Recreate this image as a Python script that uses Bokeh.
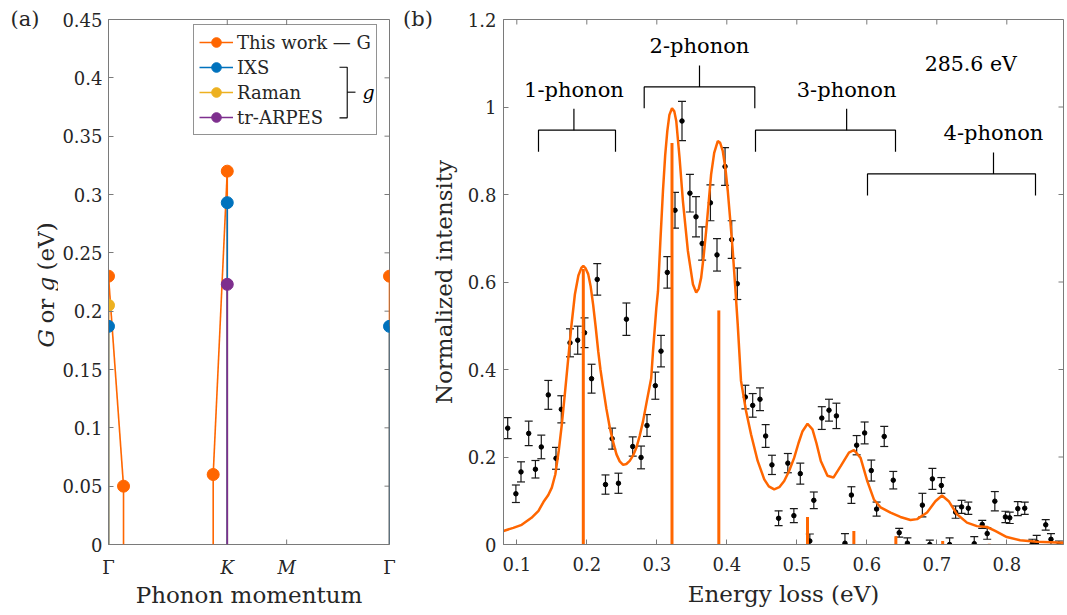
import numpy as np
from bokeh.plotting import figure
from bokeh.layouts import row, column
from bokeh.models import (Range1d, FixedTicker, CustomJSTickFormatter, Legend, LegendItem)
from bokeh.embed import file_html
from bokeh.resources import INLINE
from bokeh.core.properties import value

SERIF = "DejaVu Serif"
ORANGE = "#FF6600"
BLUE = "#0072BD"
YELLOW = "#EDB120"
PURPLE = "#7E2F8E"
AXIS = "#7a7a7a"
INK = "#262626"
TICK_LEN = 5  # inward tick length, px

# ---------------- (a) coupling strength along the high-symmetry path ----------------
# path lengths Gamma-K : K-M : M-Gamma = 2 : 1 : sqrt(3)
path_positions = [0.0, 2.0, 3.0, 4.732]
path_labels = ["Γ", "K", "M", "Γ"]
path_label_styles = ["normal", "italic", "italic", "normal"]
g_ticks = [0.0, 0.05, 0.1, 0.15, 0.2, 0.25, 0.3, 0.35, 0.4, 0.45]

this_work_q = [0.0, 0.253, 1.763, 2.0, 4.732]
this_work_G = [0.23, 0.05, 0.06, 0.32, 0.23]
this_work_branches = [[0, 1], [2, 3], [4]]
ixs_q = [0.0, 2.0, 4.732]
ixs_g = [0.187, 0.293, 0.187]
raman_q = [0.0]
raman_g = [0.205]
arpes_q = [2.0]
arpes_g = [0.223]

# ---------------- (b) RIXS spectrum at 285.6 eV ----------------
energy = [0.087, 0.0987, 0.106, 0.117, 0.1266, 0.135, 0.145, 0.156, 0.1636, 0.176,
          0.187, 0.1968, 0.2068, 0.2149, 0.2267, 0.2362, 0.2452, 0.2566, 0.2656, 0.2775,
          0.286, 0.2979, 0.306, 0.315, 0.326, 0.336, 0.3473, 0.356, 0.3648, 0.3766,
          0.386, 0.3975, 0.407, 0.415, 0.4265, 0.437, 0.4474, 0.4555, 0.4645, 0.474,
          0.4872, 0.4958, 0.505, 0.5186, 0.5243, 0.5357, 0.546, 0.5566, 0.5688, 0.578,
          0.5855, 0.5969, 0.6064, 0.614, 0.6249, 0.6378, 0.6463, 0.658, 0.6794, 0.690,
          0.6937, 0.7065, 0.7183, 0.7269, 0.7354, 0.745, 0.7535, 0.7649, 0.772, 0.7829,
          0.798, 0.8042, 0.8157, 0.8256, 0.8365, 0.8427, 0.8556, 0.8631, 0.8745]
intensity = [0.266, 0.116, 0.166, 0.254, 0.172, 0.223, 0.342, 0.197, 0.309, 0.461,
             0.467, 0.484, 0.379, 0.606, 0.137, 0.242, 0.140, 0.515, 0.224, 0.199,
             0.272, 0.363, 0.442, 0.622, 0.764, 0.968, 0.803, 0.749, 0.688, 0.781,
             0.662, 0.864, 0.697, 0.596, 0.337, 0.318, 0.332, 0.248, 0.182, 0.060,
             0.186, 0.066, 0.162, 0.008, 0.101, 0.289, 0.307, 0.294, 0.003, 0.113,
             0.227, 0.255, 0.169, 0.081, 0.247, 0.147, 0.027, 0.003, 0.090, 0.000,
             0.150, 0.135, 0.000, 0.074, 0.086, 0.083, 0.002, 0.046, 0.025, 0.099,
             0.063, 0.061, 0.082, 0.083, 0.002, 0.005, 0.045, 0.012, 0.000]
intensity_err = [0.024, 0.020, 0.023, 0.028, 0.020, 0.027, 0.033, 0.025, 0.031, 0.032,
                 0.032, 0.034, 0.033, 0.036, 0.022, 0.024, 0.023, 0.037, 0.022, 0.026,
                 0.025, 0.031, 0.036, 0.036, 0.041, 0.045, 0.043, 0.046, 0.038, 0.041,
                 0.037, 0.043, 0.043, 0.036, 0.027, 0.027, 0.026, 0.026, 0.022, 0.017,
                 0.022, 0.016, 0.024, 0.016, 0.019, 0.026, 0.025, 0.029, 0.022, 0.019,
                 0.022, 0.025, 0.024, 0.016, 0.023, 0.020, 0.010, 0.012, 0.027, 0.010,
                 0.024, 0.018, 0.015, 0.014, 0.015, 0.014, 0.016, 0.009, 0.013, 0.022,
                 0.013, 0.013, 0.016, 0.014, 0.010, 0.016, 0.012, 0.013, 0.008]

fit_energy = [0.081, 0.095, 0.107, 0.121, 0.131, 0.138, 0.145, 0.150, 0.155, 0.160,
              0.164, 0.169, 0.1736, 0.178, 0.183, 0.188, 0.1925, 0.195, 0.198, 0.202,
              0.2055, 0.209, 0.2125, 0.2163, 0.2195, 0.2234, 0.228, 0.2329, 0.2375, 0.2424,
              0.247, 0.2519, 0.2565, 0.2613, 0.266, 0.2708, 0.2755, 0.2804, 0.286, 0.292,
              0.2946, 0.2993, 0.3017, 0.305, 0.3088, 0.312, 0.315, 0.318, 0.3217, 0.325,
              0.3278, 0.3325, 0.3373, 0.3444, 0.3516, 0.3563, 0.360, 0.3634, 0.367, 0.3705,
              0.374, 0.3776, 0.382, 0.3871, 0.3905, 0.3943, 0.398, 0.4014, 0.405, 0.4085,
              0.412, 0.4156, 0.4203, 0.4275, 0.4346, 0.4441, 0.4535, 0.460, 0.4677, 0.475,
              0.482, 0.489, 0.4962, 0.5025, 0.5082, 0.5153, 0.5224, 0.528, 0.5343, 0.5438,
              0.5523, 0.5627, 0.5745, 0.5816, 0.5911, 0.6007, 0.6101, 0.6196, 0.6339, 0.648,
              0.6624, 0.6719, 0.6861, 0.698, 0.7075, 0.717, 0.7289, 0.7431, 0.7573, 0.7716,
              0.7834, 0.800, 0.819, 0.8427, 0.881]
fit_intensity = [0.031, 0.038, 0.045, 0.061, 0.077, 0.097, 0.113, 0.130, 0.160, 0.215,
                 0.270, 0.350, 0.427, 0.500, 0.572, 0.615, 0.633, 0.637, 0.632, 0.618,
                 0.590, 0.549, 0.500, 0.442, 0.400, 0.358, 0.310, 0.267, 0.235, 0.206,
                 0.190, 0.182, 0.184, 0.191, 0.203, 0.221, 0.248, 0.282, 0.330, 0.380,
                 0.442, 0.540, 0.579, 0.690, 0.808, 0.890, 0.945, 0.982, 0.997, 0.990,
                 0.968, 0.884, 0.785, 0.671, 0.595, 0.576, 0.585, 0.610, 0.660, 0.717,
                 0.780, 0.846, 0.895, 0.922, 0.918, 0.899, 0.860, 0.808, 0.740, 0.671,
                 0.590, 0.503, 0.374, 0.305, 0.252, 0.191, 0.149, 0.133, 0.126, 0.131,
                 0.145, 0.168, 0.198, 0.232, 0.259, 0.276, 0.263, 0.232, 0.191, 0.157,
                 0.153, 0.179, 0.210, 0.216, 0.198, 0.145, 0.103, 0.085, 0.073, 0.063,
                 0.056, 0.058, 0.073, 0.099, 0.112, 0.099, 0.069, 0.050, 0.042, 0.040,
                 0.031, 0.017, 0.0096, 0.0064, 0.0041]

stick_energy = [0.195, 0.3217, 0.3886, 0.5153, 0.5815, 0.6415, 0.7084, 0.775]
stick_height = [0.63, 0.918, 0.535, 0.063, 0.031, 0.019, 0.008, 0.002]

energy_ticks = [0.1, 0.2, 0.3, 0.4, 0.5, 0.6, 0.7, 0.8]
intensity_ticks = [0.0, 0.2, 0.4, 0.6, 0.8, 1.0, 1.2]

bracket_names = ["1-phonon", "2-phonon", "3-phonon", "4-phonon"]
bracket_left = [0.131, 0.282, 0.441, 0.601]
bracket_right = [0.241, 0.440, 0.641, 0.841]
bracket_stem = [0.1816, 0.361, 0.5712, 0.781]
bracket_level = [0.947, 1.046, 0.947, 0.847]
bracket_drop = 0.049
bracket_label_gap = 0.093

number_fmt = CustomJSTickFormatter(code="return String(Number(tick.toFixed(2)));")


def style_axis(ax, ticks):
    ax.ticker = FixedTicker(ticks=ticks)
    ax.axis_line_color = AXIS
    ax.axis_line_width = 1
    ax.major_tick_line_color = AXIS
    ax.major_tick_line_width = 1
    ax.major_tick_in = TICK_LEN
    ax.major_tick_out = 0
    ax.minor_tick_line_color = None
    ax.major_label_text_font = SERIF
    ax.major_label_text_font_size = "18px"
    ax.major_label_text_color = INK
    ax.formatter = number_fmt


def make_plot(width, height, x_range, y_range, left, right, top, bottom, x_axis=True):
    p = figure(width=width, height=height, x_range=x_range, y_range=y_range,
               output_backend="svg", toolbar_location=None, frame_align=False,
               x_axis_location="below" if x_axis else None,
               min_border_left=left, min_border_right=right,
               min_border_top=top, min_border_bottom=bottom)
    p.grid.visible = False
    p.outline_line_color = AXIS
    p.outline_line_width = 1
    p.background_fill_color = "white"
    p.border_fill_color = "white"
    return p


def make_strip(width, height, x_range=None):
    # bare drawing area (no axes) used for text that sits beside a frame
    s = figure(width=width, height=height,
               x_range=x_range if x_range is not None else Range1d(0, width),
               y_range=Range1d(0, height), output_backend="svg", toolbar_location=None,
               frame_align=False, x_axis_location=None, y_axis_location=None, min_border=0)
    s.grid.visible = False
    s.outline_line_color = None
    s.background_fill_color = "white"
    s.border_fill_color = "white"
    return s


def inner_ticks(p, positions, fixed, length, vertical):
    # short tick marks pointing into the frame from the top or right edge
    if vertical:
        p.segment(x0=positions, y0=[fixed] * len(positions), x1=positions,
                  y1=[fixed + length] * len(positions), line_color=AXIS, line_width=1)
    else:
        p.segment(x0=[fixed] * len(positions), y0=positions, x1=[fixed + length] * len(positions),
                  y1=positions, line_color=AXIS, line_width=1)


# ================= panel (a) =================
A_W, A_LEFT, A_RIGHT, A_TOP, A_BOTTOM = 342, 50, 11, 19, 11
A_H = A_TOP + 525 + A_BOTTOM
a_frame_w = A_W - A_LEFT - A_RIGHT
a_frame_h = A_H - A_TOP - A_BOTTOM
qx = path_positions[-1] / a_frame_w   # data units per px
gy = 0.45 / a_frame_h

pa = make_plot(A_W, A_H, Range1d(0, path_positions[-1]), Range1d(0, 0.45),
               A_LEFT, A_RIGHT, A_TOP, A_BOTTOM, x_axis=False)
style_axis(pa.yaxis[0], g_ticks)
pa.yaxis[0].major_label_standoff = 6
inner_ticks(pa, path_positions, 0.0, TICK_LEN * gy, True)
inner_ticks(pa, path_positions, 0.45, -TICK_LEN * gy, True)
inner_ticks(pa, g_ticks, path_positions[-1], -TICK_LEN * qx, False)

# drop lines to zero for every point, plus connections along each branch
r_tw_stem = pa.segment(x0=this_work_q, y0=[0.0] * len(this_work_q), x1=this_work_q,
                       y1=this_work_G, line_color=ORANGE, line_width=1.6)
branch_xs = [[this_work_q[i] for i in br] for br in this_work_branches if len(br) > 1]
branch_ys = [[this_work_G[i] for i in br] for br in this_work_branches if len(br) > 1]
pa.multi_line(xs=branch_xs, ys=branch_ys, line_color=ORANGE, line_width=1.6)
r_tw_pt = pa.scatter(this_work_q, this_work_G, size=12, color=ORANGE)

r_ra_stem = pa.segment(x0=raman_q, y0=[0.0] * len(raman_q), x1=raman_q, y1=raman_g,
                       line_color=YELLOW, line_width=1.6)
r_ra_pt = pa.scatter(raman_q, raman_g, size=12, color=YELLOW)

r_ixs_stem = pa.segment(x0=ixs_q, y0=[0.0] * len(ixs_q), x1=ixs_q, y1=ixs_g,
                        line_color=BLUE, line_width=1.6)
r_ixs_pt = pa.scatter(ixs_q, ixs_g, size=12, color=BLUE)

r_ar_stem = pa.segment(x0=arpes_q, y0=[0.0] * len(arpes_q), x1=arpes_q, y1=arpes_g,
                       line_color=PURPLE, line_width=1.6)
r_ar_pt = pa.scatter(arpes_q, arpes_g, size=12, color=PURPLE)

legend = Legend(items=[
    LegendItem(label="This work — G", renderers=[r_tw_stem, r_tw_pt]),
    LegendItem(label="IXS", renderers=[r_ixs_stem, r_ixs_pt]),
    LegendItem(label="Raman", renderers=[r_ra_stem, r_ra_pt]),
    LegendItem(label="tr-ARPES", renderers=[r_ar_stem, r_ar_pt]),
], location=(85, 409))
legend.label_text_font = SERIF
legend.label_text_font_size = "18px"
legend.label_text_color = INK
legend.glyph_width = 34
legend.glyph_height = 24
legend.label_height = 24
legend.label_standoff = 4
legend.spacing = 1
legend.padding = 5
legend.margin = 0
legend.border_line_color = INK
legend.border_line_width = 1
legend.background_fill_alpha = 0
pa.add_layout(legend)

# bracket grouping the three literature values under "g"
pa.multi_line(xs=[[3.890, 4.020, 4.020, 3.890], [4.020, 4.159]],
              ys=[[0.4091, 0.4091, 0.3657, 0.3657], [0.3877, 0.3877]],
              line_color="black", line_width=1.1, level="overlay")
pa.text(x=[4.277], y=[0.3882], text=["g"], text_font=value(SERIF), text_font_size="19px",
        text_font_style="italic", text_color="black", text_baseline="alphabetic",
        level="overlay")

# tick labels and title of the momentum axis
a_bottom = make_strip(A_W, 615 - A_H,
                      Range1d(-A_LEFT * qx, path_positions[-1] + A_RIGHT * qx))
for q, lab, sty in zip(path_positions, path_labels, path_label_styles):
    a_bottom.text(x=[q], y=[48], text=[lab], text_font=value(SERIF), text_font_size="18px",
                  text_font_style=sty, text_color=INK, text_align="center",
                  text_baseline="alphabetic")
a_bottom.text(x=[path_positions[-1] / 2], y=[21], text=["Phonon momentum"],
              text_font=value(SERIF), text_font_size="23px", text_color=INK,
              text_align="center", text_baseline="alphabetic")

# panel tag and vertical label "G or g (eV)" with italic symbols
a_left = make_strip(58, 615)
a_left.text(x=[10], y=[597], text=["(a)"], text_font=value(SERIF), text_font_size="21px",
            text_color=INK, text_baseline="alphabetic")
ylab_parts = ["G", "or", "g", "(eV)"]
ylab_styles = ["italic", "normal", "italic", "normal"]
ylab_start = [268, 292, 324, 345]
for txt, sty, yy in zip(ylab_parts, ylab_styles, ylab_start):
    a_left.text(x=[45], y=[yy], text=[txt], text_font=value(SERIF), text_font_size="23px",
                text_font_style=sty, text_color=INK, angle=np.pi / 2,
                text_align="left", text_baseline="alphabetic")

# ================= panel (b) =================
B_STRIP = 64
B_W, B_LEFT, B_RIGHT = 1067 - 58 - A_W - B_STRIP, 38, 4
b_frame_w = B_W - B_LEFT - B_RIGHT
ex = 0.8 / b_frame_w
iy = 1.2 / 525

pb = make_plot(B_W, 615, Range1d(0.081, 0.881), Range1d(0, 1.2), B_LEFT, B_RIGHT, 19, 71)
style_axis(pb.xaxis[0], energy_ticks)
style_axis(pb.yaxis[0], intensity_ticks)
pb.xaxis[0].major_label_standoff = 12
pb.yaxis[0].major_label_standoff = 7
inner_ticks(pb, energy_ticks, 1.2, -TICK_LEN * iy, True)
inner_ticks(pb, intensity_ticks, 0.881, -TICK_LEN * ex, False)

pb.xaxis[0].axis_label = "Energy loss (eV)"
pb.xaxis[0].axis_label_text_font = SERIF
pb.xaxis[0].axis_label_text_font_size = "23px"
pb.xaxis[0].axis_label_text_font_style = "normal"
pb.xaxis[0].axis_label_text_color = INK
pb.xaxis[0].axis_label_standoff = 7

lower = [v - e for v, e in zip(intensity, intensity_err)]
upper = [v + e for v, e in zip(intensity, intensity_err)]
pb.segment(x0=energy, y0=lower, x1=energy, y1=upper, line_color="#1a1a1a", line_width=1.2)
pb.scatter(energy, lower, marker="dash", size=8, line_color="#1a1a1a", line_width=1.2)
pb.scatter(energy, upper, marker="dash", size=8, line_color="#1a1a1a", line_width=1.2)
pb.scatter(energy, intensity, size=4.5, color="black")

pb.segment(x0=stick_energy, y0=[0.0] * len(stick_energy), x1=stick_energy, y1=stick_height,
           line_color=ORANGE, line_width=3)
pb.line(fit_energy, fit_intensity, line_color=ORANGE, line_width=2.5)

br_xs, br_ys = [], []
for x0, x1, xc, lv in zip(bracket_left, bracket_right, bracket_stem, bracket_level):
    br_xs += [[x0, x0, x1, x1], [xc, xc]]
    br_ys += [[lv - bracket_drop, lv, lv, lv - bracket_drop], [lv, lv + bracket_drop]]
pb.multi_line(xs=br_xs, ys=br_ys, line_color="black", line_width=1.2)
pb.text(x=bracket_stem, y=[lv + bracket_label_gap for lv in bracket_level], text=bracket_names,
        text_font=value(SERIF), text_font_size="21px", text_color="black",
        text_align="center", text_baseline="alphabetic")
pb.text(x=[0.7485], y=[1.0983], text=["285.6 eV"], text_font=value(SERIF),
        text_font_size="20.5px", text_color="black", text_align="center",
        text_baseline="alphabetic")

# panel tag and the intensity-axis title, left of panel (b)
b_left = make_strip(B_STRIP, 615)
b_left.text(x=[2.5], y=[597], text=["(b)"], text_font=value(SERIF), text_font_size="21px",
            text_color=INK, text_baseline="alphabetic")
b_left.text(x=[43], y=[615 - 281.5], text=["Normalized intensity"], text_font=value(SERIF),
            text_font_size="23px", text_color=INK, angle=np.pi / 2, text_align="center",
            text_baseline="alphabetic")

layout = row(a_left, column(pa, a_bottom), b_left, pb)
open("out.html", "w").write(file_html(layout, INLINE))
